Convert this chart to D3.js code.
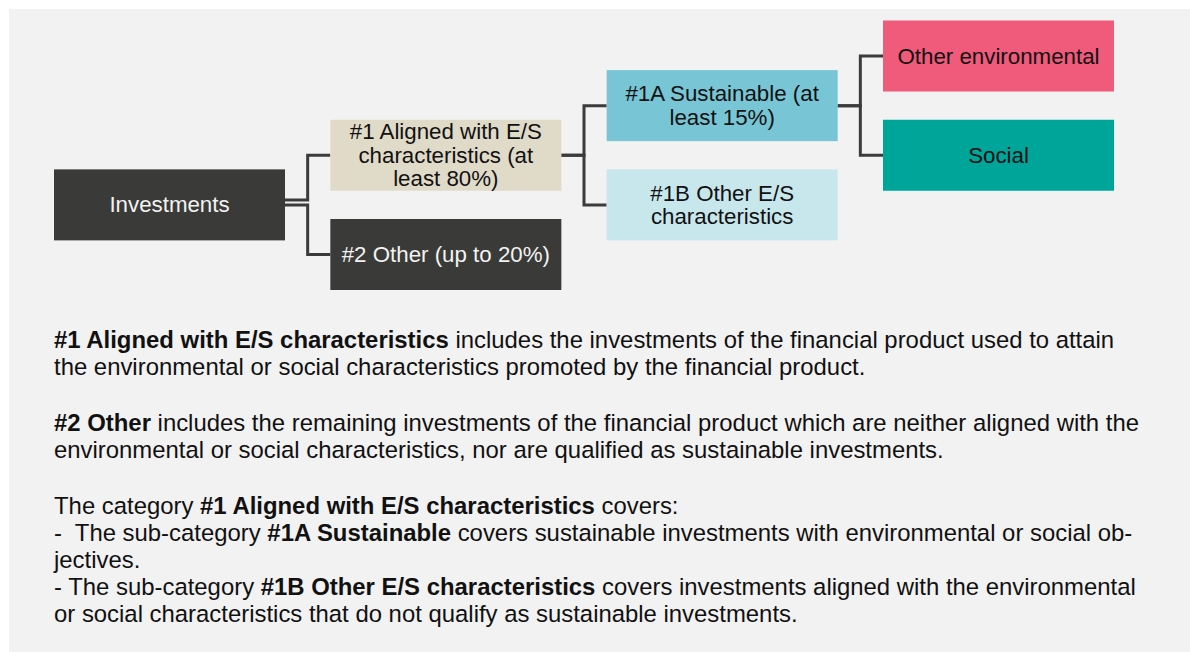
<!DOCTYPE html>
<html>
<head>
<meta charset="utf-8">
<script src="https://cdn.jsdelivr.net/npm/d3@7"></script>
<style>
  body { margin: 0; background: #fff; }
  svg text { font-family: "Liberation Sans", Arial, sans-serif; }
</style>
</head>
<body>
<svg id="chart" width="1190" height="652"></svg>
<script>
// tree nodes: id, parent, label lines
const nodeIds = ["inv", "al", "oth", "s1a", "s1b", "env", "soc"]
const nodeParents = [null, "inv", "inv", "al", "al", "s1a", "s1a"]
const nodeLabels = [
  ["Investments"],
  ["#1 Aligned with E/S", "characteristics (at", "least 80%)"],
  ["#2 Other (up to 20%)"],
  ["#1A Sustainable (at", "least 15%)"],
  ["#1B Other E/S", "characteristics"],
  ["Other environmental"],
  ["Social"]
]
const nodeFills = ["#3a3b38", "#e0dac8", "#3a3b38", "#78c5d5", "#c8e7ed", "#f05a7b", "#00a59a"]
const nodeInk = ["#f2f2f2", "#111", "#f2f2f2", "#111", "#111", "#111", "#111"]

// notes below the tree: each line is a list of [text, bold]
const noteLines = [
  [["#1 Aligned with E/S characteristics", true], [" includes the investments of the financial product used to attain", false]],
  [["the environmental or social characteristics promoted by the financial product.", false]],
  null,
  [["#2 Other", true], [" includes the remaining investments of the financial product which are neither aligned with the", false]],
  [["environmental or social characteristics, nor are qualified as sustainable investments.", false]],
  null,
  [["The category ", false], ["#1 Aligned with E/S characteristics", true], [" covers:", false]],
  [["-  The sub-category ", false], ["#1A Sustainable", true], [" covers sustainable investments with environmental or social ob-", false]],
  [["jectives.", false]],
  [["- The sub-category ", false], ["#1B Other E/S characteristics", true], [" covers investments aligned with the environmental", false]],
  [["or social characteristics that do not qualify as sustainable investments.", false]]
]

const boxW = 231, boxH = 71
const fs = 22.3
const noteFs = 23.9

const svg = d3.select("#chart")
svg.append("rect").attr("x", 9).attr("y", 9).attr("width", 1181).attr("height", 643).attr("fill", "#f2f2f2")

const rows = nodeIds.map((id, i) => ({ id, parent: nodeParents[i], label: nodeLabels[i], fill: nodeFills[i], ink: nodeInk[i] }))
const root = d3.stratify().id(d => d.id).parentId(d => d.parent)(rows)
d3.tree().nodeSize([1, 1])(root)

const x = d3.scaleLinear().domain([0, 3]).range([54, 883])
const y = d3.scaleLinear().domain([-1.5, 0.5]).range([56, 254.5])

// elbow connectors
const g = svg.append("g")
g.selectAll("path.link")
  .data(root.links())
  .join("path")
  .attr("class", "link")
  .attr("fill", "none")
  .attr("stroke", "#3b3b3b")
  .attr("stroke-width", 3)
  .attr("d", l => {
    const x0 = x(l.source.y) + boxW, x1 = x(l.target.y)
    const mx = (x0 + x1) / 2
    let y0 = y(l.source.x)
    // the root splits into two parallel lines
    if (!l.source.parent) y0 += l.target.x < l.source.x ? -5 : 0
    const y1 = y(l.target.x)
    return `M${x0},${y0}H${mx}V${y1}H${x1}`
  })

const node = g.selectAll("g.node")
  .data(root.descendants())
  .join("g")
  .attr("class", "node")
  .attr("transform", d => `translate(${x(d.y)},${y(d.x) - boxH / 2})`)

node.append("rect")
  .attr("width", boxW)
  .attr("height", boxH)
  .attr("fill", d => d.data.fill)

node.append("text")
  .attr("text-anchor", "middle")
  .attr("font-size", fs)
  .attr("fill", d => d.data.ink)
  .each(function (d) {
    const lines = d.data.label
    const lh = 23.5
    d3.select(this).selectAll("tspan")
      .data(lines)
      .join("tspan")
      .attr("x", boxW / 2)
      .attr("y", (t, i) => boxH / 2 + 7.5 + (i - (lines.length - 1) / 2) * lh)
      .text(t => t)
  })

// notes, one text element per line
let by = 348
noteLines.forEach(line => {
  if (!line) { by += 29; return }
  const t = svg.append("text")
    .attr("x", 54)
    .attr("y", by)
    .attr("font-size", noteFs)
    .attr("fill", "#111")
    .attr("xml:space", "preserve")
    .style("white-space", "pre")
  t.selectAll("tspan")
    .data(line)
    .join("tspan")
    .attr("font-weight", d => d[1] ? "bold" : null)
    .text(d => d[0])
  by += 27
})
</script>
</body>
</html>
